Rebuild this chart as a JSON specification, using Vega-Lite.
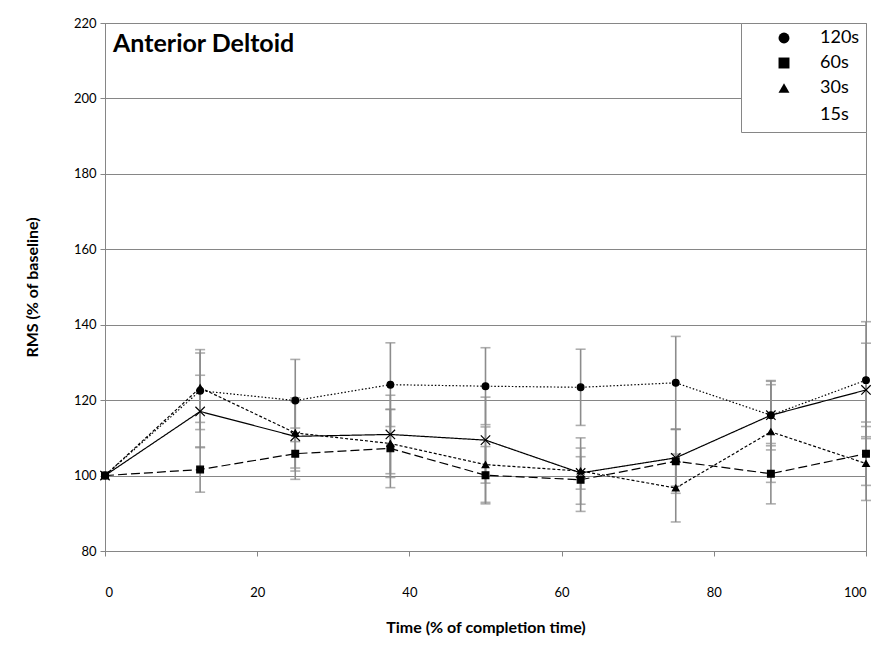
{
  "$schema": "https://vega.github.io/schema/vega-lite/v6.json",
  "width": 761,
  "height": 528,
  "autosize": "none",
  "padding": {"left": 105, "top": 23, "right": 27, "bottom": 95},
  "background": "white",
  "title": {"text": "Anterior Deltoid", "anchor": "start", "frame": "group", "orient": "top", "baseline": "top", "offset": -40, "dx": 8, "fontSize": 25, "fontWeight": "bold", "font": "Lato", "color": "#000"},
  "data": {"values": [
    {"series": "120s", "x": 0, "y": 100},
    {"series": "120s", "x": 12.5, "y": 122.5, "lo": 112.2, "hi": 133.4},
    {"series": "120s", "x": 25, "y": 119.9, "lo": 109, "hi": 130.8},
    {"series": "120s", "x": 37.5, "y": 124.1, "lo": 113, "hi": 135.2},
    {"series": "120s", "x": 50, "y": 123.7, "lo": 113.5, "hi": 133.9},
    {"series": "120s", "x": 62.5, "y": 123.4, "lo": 113.3, "hi": 133.5},
    {"series": "120s", "x": 75, "y": 124.6, "lo": 112.3, "hi": 136.9},
    {"series": "120s", "x": 87.5, "y": 116, "lo": 106.8, "hi": 125.2},
    {"series": "120s", "x": 100, "y": 125.3, "lo": 109.8, "hi": 140.8},
    {"series": "60s", "x": 0, "y": 100},
    {"series": "60s", "x": 12.5, "y": 101.6, "lo": 95.6, "hi": 107.6},
    {"series": "60s", "x": 25, "y": 105.8, "lo": 99, "hi": 112.6},
    {"series": "60s", "x": 37.5, "y": 107.2, "lo": 96.8, "hi": 117.6},
    {"series": "60s", "x": 50, "y": 100.1, "lo": 92.5, "hi": 107.7},
    {"series": "60s", "x": 62.5, "y": 98.9, "lo": 90.5, "hi": 107.3},
    {"series": "60s", "x": 75, "y": 103.8, "lo": 95.3, "hi": 112.3},
    {"series": "60s", "x": 87.5, "y": 100.5, "lo": 92.5, "hi": 108.5},
    {"series": "60s", "x": 100, "y": 105.8, "lo": 97.4, "hi": 114.2},
    {"series": "30s", "x": 0, "y": 100},
    {"series": "30s", "x": 12.5, "y": 123.3, "lo": 114.1, "hi": 132.5},
    {"series": "30s", "x": 25, "y": 111.3, "lo": 102, "hi": 120.6},
    {"series": "30s", "x": 37.5, "y": 108.5, "lo": 99.5, "hi": 117.5},
    {"series": "30s", "x": 50, "y": 102.9, "lo": 92.9, "hi": 112.9},
    {"series": "30s", "x": 62.5, "y": 101.2, "lo": 92.4, "hi": 110},
    {"series": "30s", "x": 75, "y": 96.7, "lo": 87.7, "hi": 105.7},
    {"series": "30s", "x": 87.5, "y": 111.6, "lo": 98.2, "hi": 125},
    {"series": "30s", "x": 100, "y": 103.2, "lo": 93.4, "hi": 113},
    {"series": "15s", "x": 0, "y": 100},
    {"series": "15s", "x": 12.5, "y": 117, "lo": 107.4, "hi": 126.6},
    {"series": "15s", "x": 25, "y": 110.4, "lo": 101.2, "hi": 119.6},
    {"series": "15s", "x": 37.5, "y": 110.9, "lo": 100.5, "hi": 121.3},
    {"series": "15s", "x": 50, "y": 109.4, "lo": 98, "hi": 120.8},
    {"series": "15s", "x": 62.5, "y": 100.7, "lo": 96.4, "hi": 105},
    {"series": "15s", "x": 75, "y": 104.7, "lo": 97.2, "hi": 112.2},
    {"series": "15s", "x": 87.5, "y": 116, "lo": 107.9, "hi": 124.1},
    {"series": "15s", "x": 100, "y": 122.7, "lo": 110.3, "hi": 135.1}
  ]},
  "encoding": {
    "x": {"field": "x", "type": "quantitative", "scale": {"domain": [0, 100], "nice": false, "zero": false},
      "axis": {"values": [0, 20, 40, 60, 80, 100], "grid": false, "title": "Time (% of completion time)", "labelPadding": 30, "titlePadding": 20}}
  },
  "layer": [
    {
      "transform": [{"filter": "datum.x > 0"}],
      "mark": {"type": "rule", "color": "#8c8c8c", "strokeWidth": 1.6},
      "encoding": {
        "y": {"field": "lo", "type": "quantitative", "scale": {"domain": [80, 220], "nice": false, "zero": false},
          "axis": {"values": [80, 100, 120, 140, 160, 180, 200, 220], "title": "RMS (% of baseline)", "labelPadding": 4, "titlePadding": 33}},
        "y2": {"field": "hi"}
      }
    },
    {
      "transform": [{"filter": "datum.x > 0"}],
      "mark": {"type": "tick", "orient": "horizontal", "color": "#8c8c8c", "size": 10, "thickness": 1.6},
      "encoding": {"y": {"field": "lo", "type": "quantitative"}}
    },
    {
      "transform": [{"filter": "datum.x > 0"}],
      "mark": {"type": "tick", "orient": "horizontal", "color": "#8c8c8c", "size": 10, "thickness": 1.6},
      "encoding": {"y": {"field": "hi", "type": "quantitative"}}
    },
    {
      "mark": {"type": "line", "color": "black", "strokeWidth": 1.2},
      "encoding": {
        "y": {"field": "y", "type": "quantitative"},
        "detail": {"field": "series"},
        "strokeDash": {"field": "series", "type": "nominal",
          "scale": {"domain": ["120s", "60s", "30s", "15s"], "range": [[1.5, 2], [9, 4], [3, 2], [1, 0]]}}
      }
    },
    {
      "mark": {"type": "point", "filled": true, "fill": "black", "stroke": "black", "strokeWidth": 1.2, "opacity": 1, "size": 45},
      "encoding": {
        "y": {"field": "y", "type": "quantitative"},
        "shape": {"field": "series", "type": "nominal",
          "scale": {"domain": ["120s", "60s", "30s", "15s"], "range": ["circle", "square", "triangle-up", "M-1.4,-1.4L1.4,1.4M-1.4,1.4L1.4,-1.4"]}}
      }
    }
  ],
  "config": {
    "font": "Lato",
    "view": {"stroke": "#868686", "strokeWidth": 1},
    "axis": {"labelFont": "Lato", "titleFont": "Lato", "labelColor": "#000", "titleColor": "#000", "domainColor": "#868686", "tickColor": "#868686", "gridColor": "#868686", "labelFontSize": 13, "titleFontSize": 16, "titleFontWeight": "bold", "tickSize": 5},
    "legend": {
      "title": null, "orient": "top-right", "offset": 0, "padding": 6, "rowPadding": 7,
      "fillColor": "white", "strokeColor": "#868686", "cornerRadius": 0,
      "symbolSize": 120, "symbolOffset": 28, "labelOffset": 27,
      "symbolFillColor": "black", "symbolStrokeColor": "black", "symbolStrokeWidth": 1.2,
      "labelFontSize": 18, "labelFont": "Lato", "labelColor": "#000"
    }
  }
}
